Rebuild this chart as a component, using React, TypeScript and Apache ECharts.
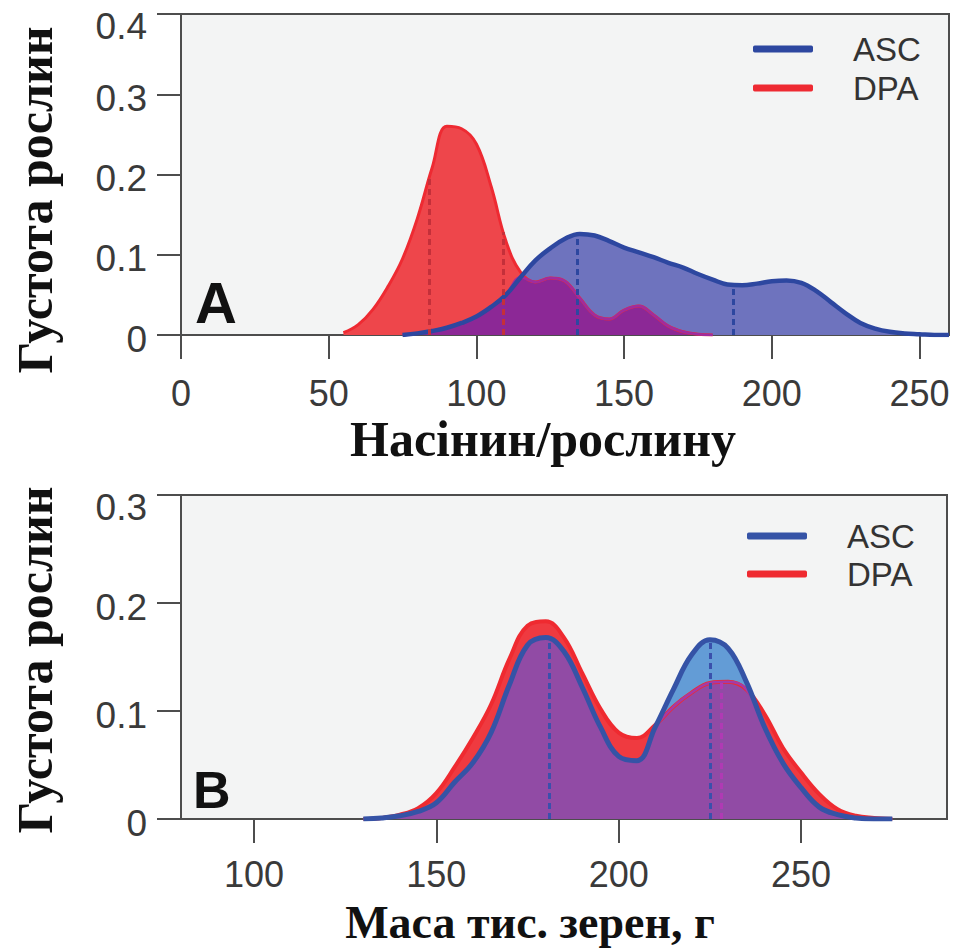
import React, { useEffect, useRef } from "react";
import * as echarts from "echarts";

// ---- Panel A: seeds per plant ----
const topX = [50, 55, 60, 65, 70, 75, 80, 85, 90, 95, 100, 105, 110, 115, 120, 125, 130, 135, 140, 145, 150, 155, 160, 165, 170, 175, 180, 185, 190, 195, 200, 205, 210, 215, 220, 225, 230, 235, 240, 245, 250, 255, 260];
const topDpa = [null, 0.003, 0.013, 0.032, 0.06, 0.095, 0.145, 0.208, 0.26, 0.257, 0.238, 0.185, 0.117, 0.078, 0.066, 0.071, 0.067, 0.046, 0.025, 0.02, 0.031, 0.036, 0.025, 0.011, 0.004, 0.001, 0, null, null, null, null, null, null, null, null, null, null, null, null, null, null, null, null];
const topAsc = [null, null, null, null, null, 0, 0.002, 0.005, 0.009, 0.015, 0.023, 0.035, 0.05, 0.072, 0.093, 0.108, 0.12, 0.126, 0.124, 0.117, 0.109, 0.103, 0.097, 0.09, 0.084, 0.076, 0.069, 0.063, 0.062, 0.064, 0.067, 0.068, 0.065, 0.055, 0.041, 0.027, 0.015, 0.008, 0.004, 0.002, 0.001, 0, 0];
const topDpaMarkX = [84, 109];
const topDpaMarkY = [0.195, 0.128];
const topAscMarkX = [134, 187];
const topAscMarkY = [0.125, 0.062];
const topXTicks = [0, 50, 100, 150, 200, 250];

// ---- Panel B: thousand-grain mass ----
const botX = [130, 135, 140, 145, 150, 155, 160, 165, 170, 175, 180, 185, 190, 195, 200, 205, 210, 215, 220, 225, 230, 235, 240, 245, 250, 255, 260, 265, 270, 275];
const botAsc = [0, 0.001, 0.003, 0.007, 0.015, 0.034, 0.052, 0.08, 0.124, 0.161, 0.168, 0.155, 0.122, 0.085, 0.058, 0.054, 0.085, 0.12, 0.152, 0.166, 0.158, 0.127, 0.085, 0.052, 0.029, 0.011, 0.004, 0.001, 0, 0];
const botDpa = [0, 0.001, 0.004, 0.01, 0.024, 0.048, 0.075, 0.106, 0.148, 0.179, 0.183, 0.168, 0.135, 0.102, 0.08, 0.075, 0.087, 0.104, 0.117, 0.126, 0.127, 0.12, 0.097, 0.066, 0.043, 0.023, 0.009, 0.003, 0.001, 0];
const botAscMarkX = [181, 225];
const botAscMarkY = [0.167, 0.165];
const botDpaMarkX = [228];
const botDpaMarkY = [0.126];
const botXTicks = [100, 150, 200, 250];

const legendNames = ["ASC", "DPA"];

const pairs = (xs: number[], ys: (number | null)[]) =>
  xs.map((x, i) => [x, ys[i]]).filter((p) => p[1] !== null && p[1] !== undefined);

const overlap = (xs: number[], a: (number | null)[], b: (number | null)[]) =>
  xs
    .map((x, i) => (a[i] !== null && b[i] !== null ? [x, Math.min(a[i] as number, b[i] as number)] : null))
    .filter((p) => p !== null);

const marks = (xs: number[], ys: number[], color: string) =>
  xs.map((x, i) => [
    { coord: [x, 0], lineStyle: { color, width: 3, type: [6, 4] } },
    { coord: [x, ys[i]] },
  ]);

const AXIS = "#4d4d4d";
const LABEL_FONT = '"Liberation Sans", Arial, sans-serif';
const SERIF = '"Liberation Serif", "Times New Roman", serif';

function axisX(gridIndex: number, min: number, max: number, ticks: number[], margin: number) {
  return {
    type: "value",
    gridIndex,
    min,
    max,
    axisLine: { show: true, onZero: false, lineStyle: { color: AXIS, width: 2 } },
    axisTick: { show: true, length: 24, inside: false, customValues: ticks, lineStyle: { color: AXIS, width: 2 } },
    axisLabel: { show: true, customValues: ticks, margin, fontSize: 36, color: "#3a3a3a", fontFamily: LABEL_FONT },
    splitLine: { show: false },
  };
}

function axisY(gridIndex: number, max: number) {
  return {
    type: "value",
    gridIndex,
    min: 0,
    max,
    interval: 0.1,
    axisLine: { show: true, lineStyle: { color: AXIS, width: 2 } },
    axisTick: { show: true, length: 24, inside: false, lineStyle: { color: AXIS, width: 2 } },
    axisLabel: {
      show: true,
      margin: 34,
      fontSize: 37,
      color: "#3a3a3a",
      fontFamily: LABEL_FONT,
      formatter: (v: number) => (Math.abs(v - max) < 1e-9 ? `{t|${+v.toFixed(1)}}` : `{n|${+v.toFixed(1)}}`),
      rich: {
        t: { fontSize: 37, color: "#3a3a3a", fontFamily: LABEL_FONT, padding: [24, 0, 0, 0] },
        n: { fontSize: 37, color: "#3a3a3a", fontFamily: LABEL_FONT, padding: [8, 0, 0, 0] },
      },
    },
    splitLine: { show: false },
  };
}

function lineBase(idx: number) {
  return {
    type: "line",
    xAxisIndex: idx,
    yAxisIndex: idx,
    smooth: 0.4,
    symbol: "none",
    silent: true,
  };
}

export default function App() {
  const ref = useRef<HTMLDivElement>(null);

  useEffect(() => {
    if (!ref.current) return;
    const chart = echarts.init(ref.current, undefined, { renderer: "svg" });

    const option = {
      animation: false,
      grid: [
        { left: 181, top: 14, width: 768, height: 321, show: true, backgroundColor: "#f3f4f4", borderColor: AXIS, borderWidth: 2 },
        { left: 181, top: 495, width: 766, height: 324, show: true, backgroundColor: "#f3f4f4", borderColor: AXIS, borderWidth: 2 },
      ],
      xAxis: [axisX(0, 0, 260, topXTicks, 40), axisX(1, 80, 290, botXTicks, 37)],
      yAxis: [axisY(0, 0.4), axisY(1, 0.3)],
      legend: [
        {
          left: 748,
          top: 24.5,
          orient: "vertical",
          itemWidth: 60,
          itemHeight: 7,
          itemGap: 0,
          icon: "roundRect",
          selectedMode: false,
          data: [
            { name: legendNames[0], itemStyle: { color: "#2d47a0" } },
            { name: legendNames[1], itemStyle: { color: "#ee2a32" } },
          ],
          textStyle: { fontSize: 33, color: "#333", fontFamily: LABEL_FONT, lineHeight: 39, padding: [0, 0, 0, 35] },
        },
        {
          left: 742,
          top: 512,
          orient: "vertical",
          itemWidth: 60,
          itemHeight: 7,
          itemGap: 0,
          icon: "roundRect",
          selectedMode: false,
          data: [
            { name: legendNames[0], itemStyle: { color: "#3553a6" } },
            { name: legendNames[1], itemStyle: { color: "#ef2a30" } },
          ],
          textStyle: { fontSize: 33, color: "#333", fontFamily: LABEL_FONT, lineHeight: 38, padding: [0, 0, 0, 35] },
        },
      ],
      series: [
        // Panel A
        {
          ...lineBase(0),
          name: "DPA",
          color: "#ee2a32",
          data: pairs(topX, topDpa),
          lineStyle: { color: "#ee2a32", width: 3 },
          areaStyle: { color: "#ee464b", opacity: 1 },
        },
        {
          ...lineBase(0),
          name: "ASC",
          color: "#2d47a0",
          data: pairs(topX, topAsc),
          lineStyle: { width: 0, opacity: 0 },
          areaStyle: { color: "#6e73be", opacity: 1 },
        },
        {
          ...lineBase(0),
          name: "overlapA",
          data: overlap(topX, topAsc, topDpa),
          lineStyle: { color: "#a02c9e", width: 2.5 },
          areaStyle: { color: "#8c2896", opacity: 1 },
        },
        {
          ...lineBase(0),
          name: "ASC",
          color: "#2d47a0",
          data: pairs(topX, topAsc),
          lineStyle: { color: "#2d47a0", width: 4.5 },
          markLine: {
            silent: true,
            symbol: ["none", "none"],
            label: { show: false },
            data: [...marks(topDpaMarkX, topDpaMarkY, "#c4303a"), ...marks(topAscMarkX, topAscMarkY, "#2d47a0")],
          },
        },
        // Panel B
        {
          ...lineBase(1),
          name: "DPA",
          color: "#ef2a30",
          data: pairs(botX, botDpa),
          lineStyle: { color: "#ef2a30", width: 4 },
          areaStyle: { color: "#ef3a40", opacity: 1 },
        },
        {
          ...lineBase(1),
          name: "ASC",
          color: "#3553a6",
          data: pairs(botX, botAsc),
          lineStyle: { width: 0, opacity: 0 },
          areaStyle: { color: "#639cd6", opacity: 1 },
        },
        {
          ...lineBase(1),
          name: "overlapB",
          data: overlap(botX, botAsc, botDpa),
          lineStyle: { color: "#a43aa8", width: 2.5 },
          areaStyle: { color: "#914ba5", opacity: 1 },
        },
        {
          ...lineBase(1),
          name: "ASC",
          color: "#3553a6",
          data: pairs(botX, botAsc),
          lineStyle: { color: "#3553a6", width: 5 },
          markLine: {
            silent: true,
            symbol: ["none", "none"],
            label: { show: false },
            data: [...marks(botAscMarkX, botAscMarkY, "#3a50ac"), ...marks(botDpaMarkX, botDpaMarkY, "#b03ab4")],
          },
        },
      ],
      graphic: [
        { type: "text", x: 195, y: 302, style: { text: "A", font: `bold 58px ${LABEL_FONT}`, fill: "#111", align: "left", verticalAlign: "middle" } },
        { type: "text", x: 193, y: 790, style: { text: "B", font: `bold 52px ${LABEL_FONT}`, fill: "#111", align: "left", verticalAlign: "middle" } },
        { type: "text", x: 35, y: 200, rotation: Math.PI / 2, style: { text: "Густота рослин", font: `bold 50px ${SERIF}`, fill: "#111", align: "center", verticalAlign: "middle" } },
        { type: "text", x: 35, y: 660, rotation: Math.PI / 2, style: { text: "Густота рослин", font: `bold 50px ${SERIF}`, fill: "#111", align: "center", verticalAlign: "middle" } },
        { type: "text", x: 543, y: 439, style: { text: "Насінин/рослину", font: `bold 50px ${SERIF}`, fill: "#111", align: "center", verticalAlign: "middle" } },
        { type: "text", x: 530, y: 922, style: { text: "Маса тис. зерен, г", font: `bold 46px ${SERIF}`, fill: "#111", align: "center", verticalAlign: "middle" } },
      ],
    };

    chart.setOption(option as any);
    return () => chart.dispose();
  }, []);

  return (
    <div
      ref={ref}
      style={{ position: "absolute", left: 0, top: 0, width: 959, height: 950, background: "#ffffff" }}
    />
  );
}
